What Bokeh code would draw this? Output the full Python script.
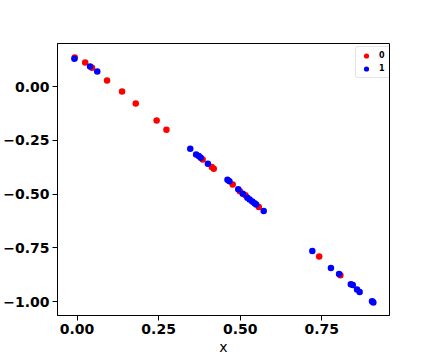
from bokeh.plotting import figure
from bokeh.models import Range1d, FixedTicker, Legend, LegendItem
from bokeh.embed import file_html
from bokeh.resources import INLINE

# class 0 (red)
x0 = [-0.007, 0.025, 0.046, 0.092, 0.138, 0.180, 0.244, 0.274, 0.385, 0.413,
      0.419, 0.477, 0.499, 0.516, 0.557, 0.742, 0.807, 0.906]
y0 = [0.135, 0.112, 0.088, 0.028, -0.023, -0.079, -0.158, -0.200, -0.339, -0.374,
      -0.382, -0.455, -0.486, -0.505, -0.559, -0.790, -0.877, -1.000]

# class 1 (blue)
x1 = [-0.008, 0.040, 0.062, 0.347, 0.365, 0.373, 0.379, 0.401, 0.461, 0.467,
      0.494, 0.508, 0.522, 0.529, 0.537, 0.544, 0.549, 0.572, 0.721, 0.778,
      0.803, 0.839, 0.845, 0.858, 0.866, 0.904, 0.908]
y1 = [0.130, 0.093, 0.070, -0.289, -0.315, -0.323, -0.331, -0.359, -0.433, -0.440,
      -0.477, -0.498, -0.516, -0.525, -0.534, -0.542, -0.548, -0.578, -0.764, -0.843,
      -0.871, -0.918, -0.922, -0.943, -0.955, -0.998, -1.003]

series_labels = ["0", "1"]
x_ticks = [0.0, 0.25, 0.5, 0.75]
x_tick_labels = ["0.00", "0.25", "0.50", "0.75"]
y_ticks = [0.0, -0.25, -0.5, -0.75, -1.0]
y_tick_labels = ["0.00", "\u22120.25", "\u22120.50", "\u22120.75", "\u22121.00"]
x_label = "x"

p = figure(width=432, height=360, output_backend="svg", toolbar_location=None,
           x_range=Range1d(-0.0598, 0.9575), y_range=Range1d(-1.0638, 0.2003),
           min_border_left=54, min_border_right=43, min_border_top=43,
           min_border_bottom=45, margin=(0, 0, 0, 0))
p.grid.visible = False
p.outline_line_color = "black"
p.outline_line_width = 1
p.background_fill_color = "white"
p.border_fill_color = "white"

r0 = p.scatter(x0, y0, size=6.5, color="#ff0000", line_width=0)
r1 = p.scatter(x1, y1, size=6.5, color="#0000ff", line_width=0)

for ax in (p.xaxis[0], p.yaxis[0]):
    ax.major_label_text_font = "DejaVu Sans"
    ax.major_label_text_font_style = "bold"
    ax.major_label_text_font_size = "14px"
    ax.major_label_text_color = "black"
    ax.major_tick_out = 5
    ax.major_tick_in = 0
    ax.minor_tick_out = 0
    ax.minor_tick_in = 0
    ax.axis_line_color = "black"
    ax.major_tick_line_color = "black"
    ax.major_label_standoff = 3

p.xaxis.ticker = FixedTicker(ticks=x_ticks)
p.xaxis.major_label_overrides = {t: l for t, l in zip(x_ticks, x_tick_labels)}
p.yaxis.ticker = FixedTicker(ticks=y_ticks)
p.yaxis.major_label_overrides = {t: l for t, l in zip(y_ticks, y_tick_labels)}

p.xaxis.axis_label = x_label
p.xaxis.axis_label_text_font = "DejaVu Sans"
p.xaxis.axis_label_text_font_style = "normal"
p.xaxis.axis_label_text_font_size = "14px"
p.xaxis.axis_label_text_color = "black"
p.xaxis.axis_label_standoff = 2

legend = Legend(items=[LegendItem(label=series_labels[0], renderers=[r0]),
                       LegendItem(label=series_labels[1], renderers=[r1])],
                location=(298, 237))
legend.label_text_font = "DejaVu Sans"
legend.label_text_font_style = "bold"
legend.label_text_font_size = "8px"
legend.label_text_color = "black"
legend.padding = 2
legend.spacing = 0
legend.glyph_width = 16
legend.glyph_height = 13
legend.label_height = 13
legend.label_width = 10
legend.label_standoff = 5
legend.margin = 0
legend.border_line_color = "#cccccc"
legend.border_line_width = 1
legend.background_fill_color = "white"
legend.background_fill_alpha = 0.8
try:
    if "border_radius" in Legend.properties():
        legend.border_radius = 3
except Exception:
    pass
p.add_layout(legend)

open("out.html", "w").write(file_html(p, INLINE))
